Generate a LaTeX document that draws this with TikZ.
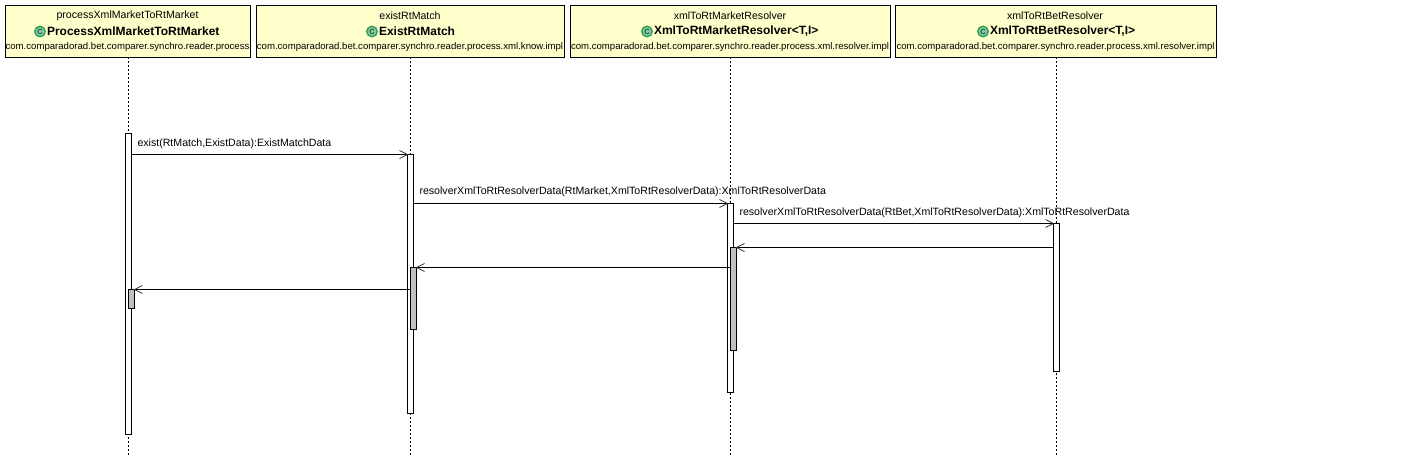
\documentclass[tikz,border=0pt]{standalone}
\usepackage{fontspec}
\setmainfont{Liberation Sans}
\begin{document}
\begin{tikzpicture}[x=1pt,y=-1pt,
  every node/.style={inner sep=0pt,outer sep=0pt},
  classbox/.style={draw=black,line width=1pt,fill=boxyellow,rectangle,anchor=north west,minimum height=52pt},
  lifeline/.style={draw=black,line width=0.8pt,dash pattern=on 2pt off 2pt},
  activation/.style={draw=black,line width=1pt,fill=white,rectangle,anchor=north,minimum width=6pt},
  returnbar/.style={draw=black,line width=1pt,fill=barGray,rectangle,anchor=north,minimum width=6pt},
  msg/.style={draw=black,line width=1pt},
  arrowR/.style={draw=arrowgray,line width=0.8pt},
  objname/.style={font=\fontsize{10.6}{12}\selectfont,anchor=center},
  classname/.style={font=\bfseries\fontsize{12}{14}\selectfont,anchor=west},
  pkgname/.style={font=\fontsize{9.6}{11}\selectfont,anchor=center},
  msglabel/.style={font=\fontsize{10.6}{12}\selectfont,anchor=west},
  cicon/.style={circle,draw=icongreen,line width=1.4pt,fill=iconfill,minimum size=10.5pt,font=\bfseries\fontsize{7.5}{8}\selectfont,text=icontext}
]
\definecolor{boxyellow}{HTML}{FFFFCC}
\definecolor{barGray}{HTML}{C0C0C0}
\definecolor{arrowgray}{HTML}{333333}
\definecolor{icongreen}{HTML}{2E9E5B}
\definecolor{iconfill}{HTML}{7FCF9F}
\definecolor{icontext}{HTML}{404040}
\useasboundingbox[fill=white] (0,0) rectangle (1421,461);

% class boxes
\node[classbox,minimum width=245pt] (b1) at (5,5) {};
\node[classbox,minimum width=308pt] (b2) at (256,5) {};
\node[classbox,minimum width=320pt] (b3) at (570,5) {};
\node[classbox,minimum width=321pt] (b4) at (895,5) {};

% box texts
\node[objname] (o1) at (127.5,15.5) {processXmlMarketToRtMarket};
\node[objname] (o2) at (410,15.5) {existRtMatch};
\node[objname] (o3) at (730,15.5) {xmlToRtMarketResolver};
\node[objname] (o4) at (1055,15.5) {xmlToRtBetResolver};
\node[cicon] (i1) at (40,31.5) {C};
\node[cicon] (i2) at (372,31.5) {C};
\node[cicon] (i3) at (647,31.5) {C};
\node[cicon] (i4) at (983,31.5) {C};
\node[classname] (c1) at (47,31.5) {ProcessXmlMarketToRtMarket};
\node[classname] (c2) at (379,31.5) {ExistRtMatch};
\node[classname] (c3) at (654,31.5) {XmlToRtMarketResolver<T,I>};
\node[classname] (c4) at (990,31.5) {XmlToRtBetResolver<T,I>};
\node[pkgname] (p1) at (127.5,47.5) {com.comparadorad.bet.comparer.synchro.reader.process};
\node[pkgname] (p2) at (410,47.5) {com.comparadorad.bet.comparer.synchro.reader.process.xml.know.impl};
\node[pkgname] (p3) at (730,47.5) {com.comparadorad.bet.comparer.synchro.reader.process.xml.resolver.impl};
\node[pkgname] (p4) at (1055.5,47.5) {com.comparadorad.bet.comparer.synchro.reader.process.xml.resolver.impl};

% lifelines
\coordinate (l1) at (128.5,456);
\coordinate (l2) at (410.5,456);
\coordinate (l3) at (730.5,456);
\coordinate (l4) at (1056.5,456);
\path[lifeline] (b1.south -| l1) -- (l1);
\path[lifeline] (b2.south -| l2) -- (l2);
\path[lifeline] (b3.south -| l3) -- (l3);
\path[lifeline] (b4.south -| l4) -- (l4);

% activations
\node[activation,minimum height=301pt] (a1) at (128.5,133.5) {};
\node[activation,minimum height=259pt] (a2) at (410.5,154.5) {};
\node[activation,minimum height=189pt] (a3) at (730.5,203.5) {};
\node[activation,minimum height=148pt] (a4) at (1056.5,223.5) {};
\node[returnbar,minimum height=19pt] (g1) at (131.5,289.5) {};
\node[returnbar,minimum height=62pt] (g2) at (413.5,267.5) {};
\node[returnbar,minimum height=103pt] (g3) at (733.5,247.5) {};

% calls
\draw[msg] (a1.east |- a2.north) -- (a2.north west);
\draw[arrowR] ([xshift=-8pt,yshift=-4pt]a2.north west) -- (a2.north west) -- ([xshift=-8pt,yshift=4pt]a2.north west);
\draw[msg] (a2.east |- a3.north) -- (a3.north west);
\draw[arrowR] ([xshift=-8pt,yshift=-4pt]a3.north west) -- (a3.north west) -- ([xshift=-8pt,yshift=4pt]a3.north west);
\draw[msg] (a3.east |- a4.north) -- (a4.north west);
\draw[arrowR] ([xshift=-8pt,yshift=-4pt]a4.north west) -- (a4.north west) -- ([xshift=-8pt,yshift=4pt]a4.north west);

% returns
\draw[msg] (a4.west |- g3.north) -- (g3.north east);
\draw[arrowR] ([xshift=8pt,yshift=-4pt]g3.north east) -- (g3.north east) -- ([xshift=8pt,yshift=4pt]g3.north east);
\draw[msg] (g3.west |- g2.north) -- (g2.north east);
\draw[arrowR] ([xshift=8pt,yshift=-4pt]g2.north east) -- (g2.north east) -- ([xshift=8pt,yshift=4pt]g2.north east);
\draw[msg] (g2.west |- g1.north) -- (g1.north east);
\draw[arrowR] ([xshift=8pt,yshift=-4pt]g1.north east) -- (g1.north east) -- ([xshift=8pt,yshift=4pt]g1.north east);

% labels
\node[msglabel] (t1) at (137.5,144) {exist(RtMatch,ExistData):ExistMatchData};
\node[msglabel] (t2) at (419.5,192) {resolverXmlToRtResolverData(RtMarket,XmlToRtResolverData):XmlToRtResolverData};
\node[msglabel] (t3) at (739.5,213) {resolverXmlToRtResolverData(RtBet,XmlToRtResolverData):XmlToRtResolverData};
\end{tikzpicture}
\end{document}
